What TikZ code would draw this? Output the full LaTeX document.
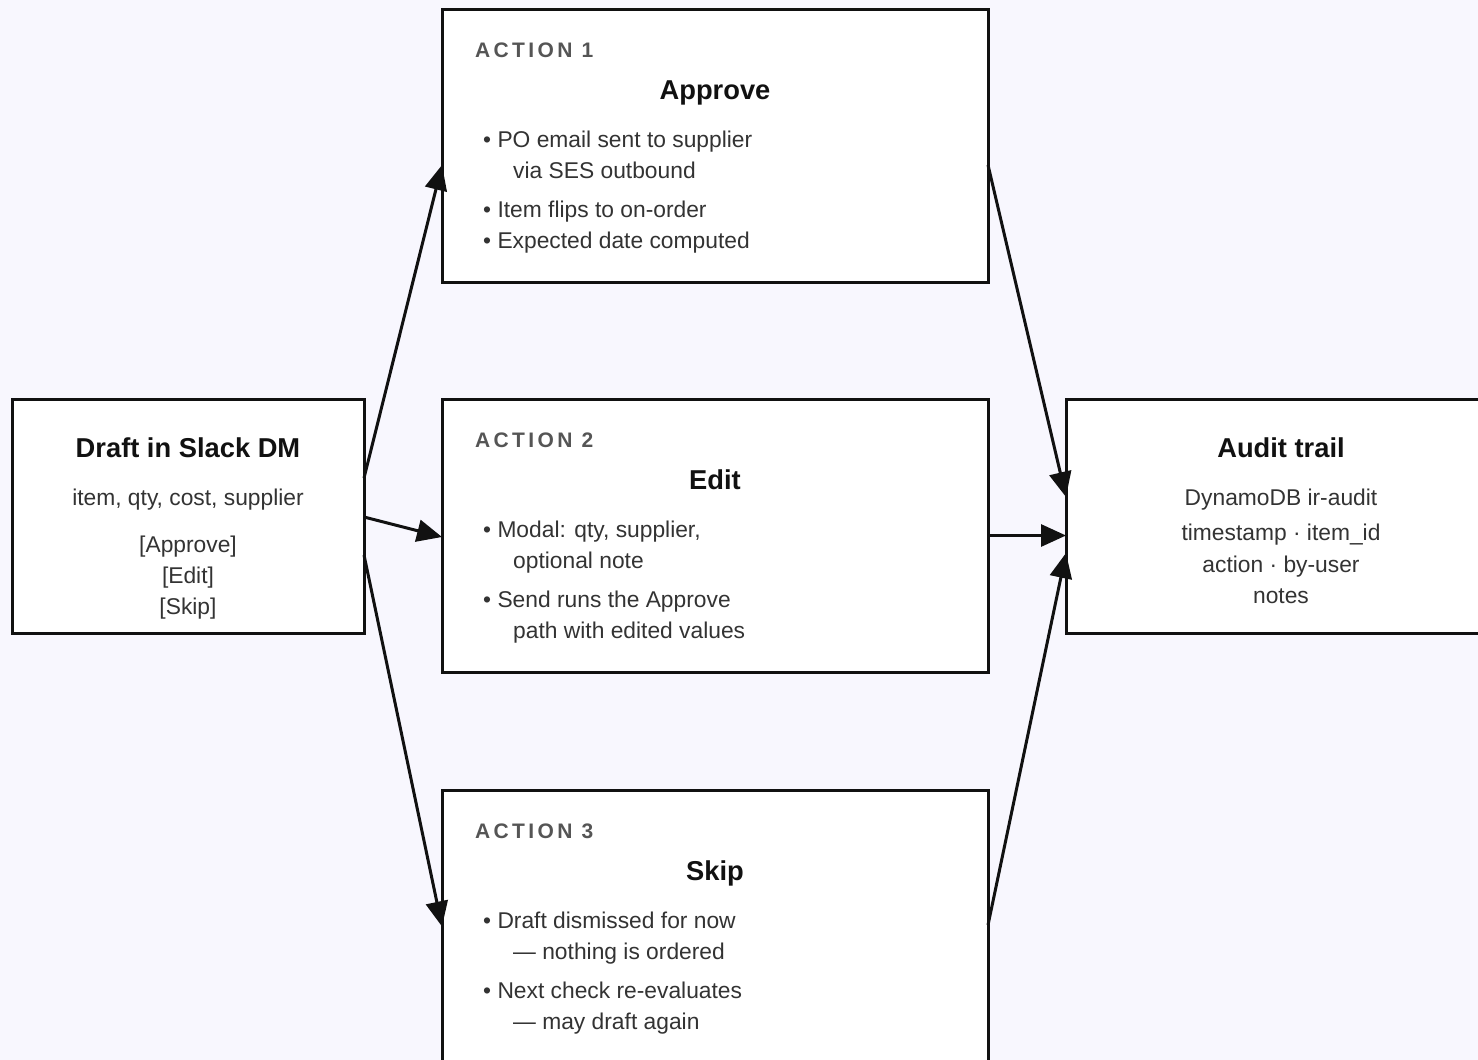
\documentclass[tikz,border=0pt]{standalone}
\usepackage{fontspec}
\setmainfont{Liberation Sans}
\newfontfamily\capsfont[LetterSpace=16]{Liberation Sans}
\usetikzlibrary{arrows.meta,calc}
\definecolor{bg}{HTML}{F8F7FE}
\definecolor{ink}{HTML}{111111}
\definecolor{bodyc}{HTML}{333333}
\definecolor{muted}{HTML}{555555}
\tikzset{
  box/.style={draw=ink, fill=white, line width=3pt, rectangle, inner sep=0pt, outer sep=0pt},
  ttl/.style={anchor=base, inner sep=0pt, text=ink, font=\fontsize{27.3}{30}\selectfont\bfseries},
  txt/.style={anchor=base, inner sep=0pt, text=bodyc, font=\fontsize{22.8}{26}\selectfont},
  bul/.style={anchor=base west, inner sep=0pt, text=bodyc, font=\fontsize{22.8}{26}\selectfont},
  lbl/.style={anchor=base west, inner sep=0pt, text=muted, font=\capsfont\fontsize{21}{24}\selectfont\bfseries},
  conn/.style={draw=ink, line width=3pt, -{Triangle[length=25pt,width=22pt]}},
}
\begin{document}
\begin{tikzpicture}[x=1pt,y=-1pt]
\useasboundingbox (0,0) rectangle (1478,1060);
\clip (0,0) rectangle (1478,1060);
\fill[bg] (0,0) rectangle (1478,1060);

% boxes
\node[box, minimum width=352pt, minimum height=234pt] (draft) at (188,516) {};
\node[box, minimum width=546pt, minimum height=273pt] (act1) at (715,145.5) {};
\node[box, minimum width=546pt, minimum height=273pt] (act2) at (715,535.5) {};
\node[box, minimum width=546pt, minimum height=273pt] (act3) at (715,926.5) {};
\node[box, minimum width=430pt, minimum height=234pt] (audit) at (1281,516) {};

% draft text
\node[ttl] (dt) at (188,457) {Draft in Slack DM};
\node[txt] (d1) at (188,505) {item, qty, cost, supplier};
\node[txt] (d2) at (188,552) {[Approve]};
\node[txt] (d3) at (188,583) {[Edit]};
\node[txt] (d4) at (188,614) {[Skip]};

% action 1
\node[lbl] (a1l) at (475,57) {ACTION 1};
\node[ttl] (a1t) at (715,99) {Approve};
\node[bul] (a1b1) at (483,147) {• PO email sent to supplier};
\node[bul] (a1b1c) at (513,178) {via SES outbound};
\node[bul] (a1b2) at (483,217) {• Item flips to on-order};
\node[bul] (a1b3) at (483,248) {• Expected date computed};

% action 2
\node[lbl] (a2l) at (475,447) {ACTION 2};
\node[ttl] (a2t) at (715,489) {Edit};
\node[bul] (a2b1) at (483,537) {• Modal: qty, supplier,};
\node[bul] (a2b1c) at (513,568) {optional note};
\node[bul] (a2b2) at (483,607) {• Send runs the Approve};
\node[bul] (a2b2c) at (513,638) {path with edited values};

% action 3
\node[lbl] (a3l) at (475,838) {ACTION 3};
\node[ttl] (a3t) at (715,880) {Skip};
\node[bul] (a3b1) at (483,928) {• Draft dismissed for now};
\node[bul] (a3b1c) at (513,959) {— nothing is ordered};
\node[bul] (a3b2) at (483,998) {• Next check re-evaluates};
\node[bul] (a3b2c) at (513,1029) {— may draft again};

% audit
\node[ttl] (at) at (1281,457) {Audit trail};
\node[txt] (au1) at (1281,505) {DynamoDB ir-audit};
\node[txt] (au2) at (1281,540) {timestamp · item\_id};
\node[txt] (au3) at (1281,572) {action · by-user};
\node[txt] (au4) at (1281,603) {notes};

% connectors
\draw[conn] ([yshift=38pt]draft.east) -- ([yshift=-19.5pt]act1.west);
\draw[conn] ([yshift=-1pt]draft.east) -- ([yshift=-1.5pt]act2.west);
\draw[conn] ([yshift=-39pt]draft.east) -- (act3.west);
\draw[conn] ([yshift=-19.5pt]act1.east) -- ([yshift=19pt]audit.west);
\draw[conn] (act2.east) -- (act2.east -| audit.west);
\draw[conn] ([yshift=1.5pt]act3.east) -- ([yshift=-37pt]audit.west);
\end{tikzpicture}
\end{document}
